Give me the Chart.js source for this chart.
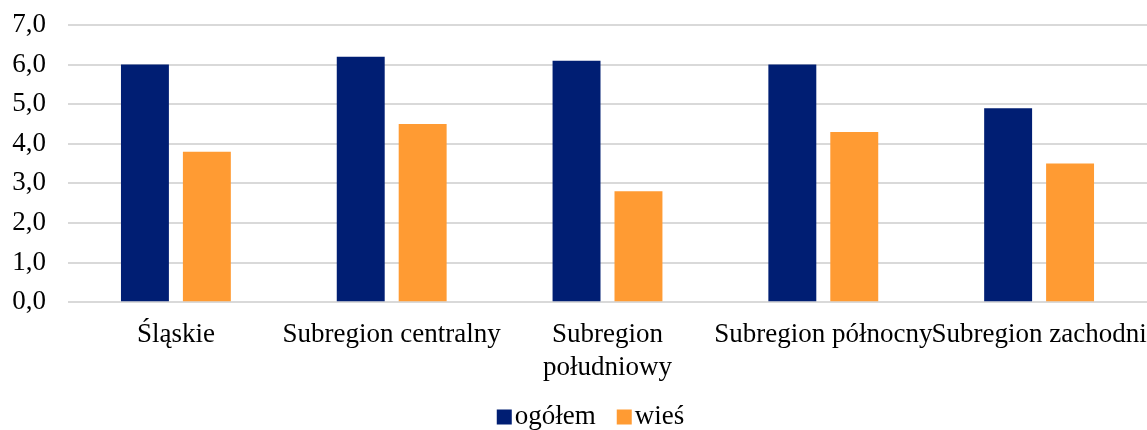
<!DOCTYPE html>
<html>
<head>
<meta charset="utf-8">
<script src="https://cdn.jsdelivr.net/npm/chart.js@4.4.0/dist/chart.umd.min.js"></script>
<style>
  html, body { margin: 0; padding: 0; background: #fff; }
  #wrap { width: 1147px; height: 430px; }
</style>
</head>
<body>
<div id="wrap"><canvas id="myChart"></canvas></div>
<script>
// dane
var kategorie = ['Śląskie', 'Subregion centralny', ['Subregion', 'południowy'], 'Subregion północny', 'Subregion zachodni'];
var ogolem = [6.0, 6.2, 6.1, 6.0, 4.9];
var wies = [3.8, 4.5, 2.8, 4.3, 3.5];
var yTicks = [0, 1, 2, 3, 4, 5, 6, 7];

var czcionka = "'Liberation Serif', 'Times New Roman', serif";
Chart.defaults.font.family = czcionka;
Chart.defaults.font.size = 27;
Chart.defaults.color = '#000';

// legenda rysowana recznie (kwadrat tuz przy tekscie)
var legendaPlugin = {
  id: 'legendaDol',
  afterDraw: function (chart) {
    var c = chart.ctx;
    c.save();
    c.font = '27px ' + czcionka;
    c.textBaseline = 'middle';
    c.fillStyle = '#000';
    var items = chart.data.datasets.map(function (d) {
      return { txt: d.label, kolor: d.backgroundColor, w: c.measureText(d.label).width };
    });
    var box = 15, gapTxt = 3, gapItem = 21;
    var total = 0;
    items.forEach(function (it, i) { total += box + gapTxt + it.w + (i ? gapItem : 0); });
    var x = chart.width / 2 + 17 - total / 2;
    var y = 417;
    items.forEach(function (it) {
      c.fillStyle = it.kolor;
      c.fillRect(x, y - box / 2, box, box);
      c.fillStyle = '#000';
      c.fillText(it.txt, x + box + gapTxt, y);
      x += box + gapTxt + it.w + gapItem;
    });
    c.restore();
  }
};

const ctx = document.getElementById('myChart');
var cfg = {
  type: 'bar',
  data: {
    labels: kategorie,
    datasets: [{
      label: 'ogółem',
      data: ogolem,
      backgroundColor: '#001e73',
      categoryPercentage: 0.574,
      barPercentage: 0.774
    }, {
      label: 'wieś',
      data: wies,
      backgroundColor: '#ff9b33',
      categoryPercentage: 0.574,
      barPercentage: 0.774
    }]
  },
  options: {
    responsive: true,
    maintainAspectRatio: false,
    animation: false,
    layout: { padding: { left: 0, top: 0, right: 0, bottom: 37 } },
    plugins: {
      tooltip: { enabled: false },
      legend: { display: false }
    },
    scales: {
      x: {
        afterFit: function (axis) {
          axis.paddingLeft = 0;
          axis.paddingRight = 0;
        },
        grid: { display: false },
        border: { display: false },
        ticks: { autoSkip: false, maxRotation: 0, minRotation: 0, padding: 9 }
      },
      y: {
        min: 0,
        max: 7,
        afterBuildTicks: function (axis) {
          axis.ticks = yTicks.map(function (v) { return { value: v }; });
        },
        afterFit: function (axis) {
          axis.width = 68;
          axis.paddingTop = 25;
          axis.paddingBottom = 0;
        },
        grid: { color: '#d9d9d9', lineWidth: 2, drawTicks: false },
        border: { display: false },
        ticks: {
          padding: 22,
          callback: function (v) { return v.toFixed(1).replace('.', ','); }
        }
      }
    }
  },
  plugins: [legendaPlugin]
};

myChart1 = new Chart(ctx, cfg);
</script>
</body>
</html>
